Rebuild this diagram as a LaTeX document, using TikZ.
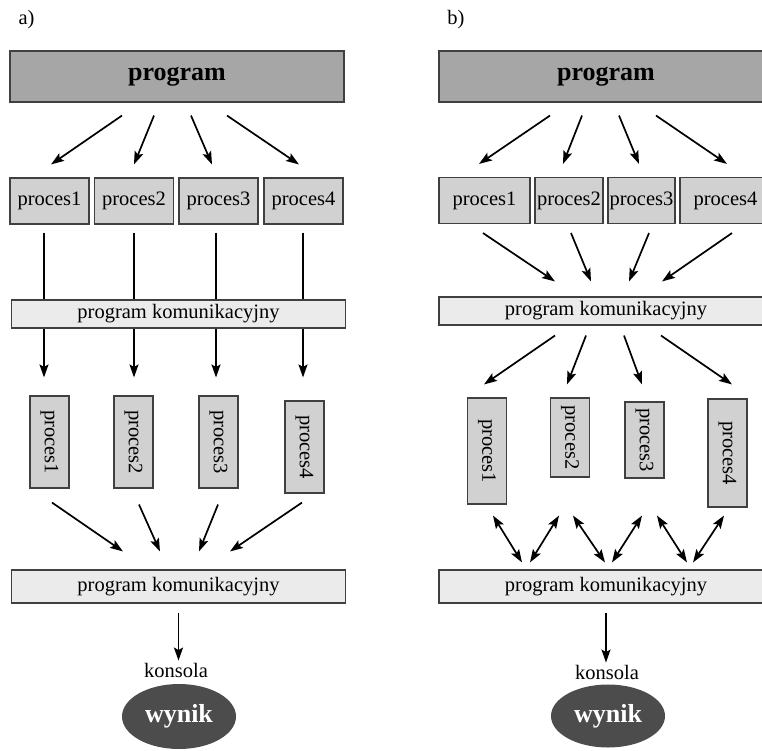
\documentclass[tikz,border=0pt]{standalone}
\usepackage{fontspec}
\setmainfont{Liberation Serif}
\usepackage{tikz}
\usetikzlibrary{arrows.meta,shapes.geometric}

\newcommand{\boxfont}{\fontsize{20.5}{24}\selectfont}
\newcommand{\headfont}{\fontsize{26}{30}\selectfont\bfseries}
\newcommand{\vtext}[1]{\rotatebox{-90}{#1}}

\tikzset{
  boxline/.style={draw=black!75, line width=1.1pt, inner sep=0pt},
  progbox/.style={boxline, fill=black!35, minimum width=334pt, minimum height=51pt, font=\headfont},
  procbox/.style={boxline, fill=black!18, minimum height=46pt, font=\boxfont},
  vprocbox/.style={boxline, fill=black!18, minimum width=39pt, font=\boxfont},
  kombox/.style={boxline, fill=black!8, minimum width=334pt, font=\boxfont},
  wynbox/.style={ellipse, fill=black!70, text=white, minimum width=114pt, minimum height=65pt, inner sep=0pt, font=\headfont},
  arr/.style={-{Stealth[length=13pt,width=9pt,inset=2.5pt]}, line width=1.7pt},
  dblarr/.style={{Stealth[length=13pt,width=9pt,inset=2.5pt]}-{Stealth[length=13pt,width=9pt,inset=2.5pt]}, line width=1.7pt}
}

\begin{document}
\begin{tikzpicture}[x=1pt,y=-1pt]
\clip (0,0) rectangle (762,751);

% ---- a) ----
\node[font=\boxfont] (lblA) at (26.5,20) {a)};
\node[progbox] (progA) at (177,76.5) {program};
\foreach \i/\x in {1/49.5,2/134,3/218.5,4/303.5}
  \node[procbox, minimum width=79pt] (pA\i) at (\x,201) {proces\i};
\node[vprocbox, minimum height=92pt] (vA1) at (49.5,442) {\vtext{proces1}};
\node[vprocbox, minimum height=92pt] (vA2) at (133.5,442) {\vtext{proces2}};
\node[vprocbox, minimum height=92pt] (vA3) at (218.5,442) {\vtext{proces3}};
\node[vprocbox, minimum height=92pt] (vA4) at (304.5,447) {\vtext{proces4}};
% lines pass behind the first communication box
\foreach \i/\s/\e/\d in {1/-5.5/-5.5/18, 2/0/0.5/18, 3/-2.5/-2.5/18, 4/-0.5/-1.5/23}
  \draw[arr] ([xshift=\s pt,yshift=-8pt]pA\i.south) -- ([xshift=\e pt,yshift=\d pt]vA\i.north);
\node[kombox, minimum height=28pt] (komA1) at (178.5,314) {program komunikacyjny};
\foreach \i/\s/\e in {1/-55/1.5, 2/-23/0, 3/14/-6.5, 4/50/-4.5}
  \draw[arr] ([xshift=\s pt,yshift=-13pt]progA.south) -- ([xshift=\e pt,yshift=13pt]pA\i.north);
\node[kombox, minimum height=33pt] (komA2) at (178.5,586.5) {program komunikacyjny};
\foreach \i/\s/\t/\e in {1/2.5/-14/-55.5, 2/5.5/-16/-18.5, 3/-0.5/-16/20.5, 4/-2.5/-9/51.5}
  \draw[arr] ([xshift=\s pt,yshift=\t pt]vA\i.south) -- ([xshift=\e pt,yshift=18pt]komA2.north);
\node[font=\boxfont, inner sep=2pt] (konsA) at (176,670) {konsola};
\draw[arr] ([yshift=-9pt]komA2.south) -- (komA2.south |- konsA.north);
\node[wynbox] (wynA) at (179,716.5) {wynik};

% ---- b) ----
\node[font=\boxfont] (lblB) at (456,20) {b)};
\node[progbox] (progB) at (606,76.5) {program};
\node[procbox, minimum width=91pt] (pB1) at (484.5,200.5) {proces1};
\node[procbox, minimum width=68pt] (pB2) at (569,200.5) {proces2};
\node[procbox, minimum width=67pt] (pB3) at (641.5,200.5) {proces3};
\node[procbox, minimum width=91pt] (pB4) at (725.5,200.5) {proces4};
\foreach \i/\s/\e in {1/-56/-5.5, 2/-24/-6, 3/13/-2.5, 4/50/1.5}
  \draw[arr] ([xshift=\s pt,yshift=-13pt]progB.south) -- ([xshift=\e pt,yshift=13pt]pB\i.north);
\node[kombox, minimum height=28pt] (komB1) at (606,311) {program komunikacyjny};
\foreach \i/\s/\e in {1/-1.5/-51, 2/2/-15, 3/7.5/23, 4/6.5/56}
  \draw[arr] ([xshift=\s pt,yshift=-9pt]pB\i.south) -- ([xshift=\e pt,yshift=15pt]komB1.north);
\node[vprocbox, minimum height=106pt] (vB1) at (487,451) {\vtext{proces1}};
\node[vprocbox, minimum height=79pt] (vB2) at (570,437.5) {\vtext{proces2}};
\node[vprocbox, minimum height=76pt] (vB3) at (644.5,440) {\vtext{proces3}};
\node[vprocbox, minimum height=108pt] (vB4) at (727.5,453) {\vtext{proces4}};
\foreach \i/\s/\e/\d in {1/-51/-3/13, 2/-20/-3/13, 3/18/-2.5/17, 4/55/4.5/14}
  \draw[arr] ([xshift=\s pt,yshift=-10pt]komB1.south) -- ([xshift=\e pt,yshift=\d pt]vB\i.north);
\node[kombox, minimum height=33pt] (komB2) at (606,586.5) {program komunikacyjny};
% two-way links
\foreach \i/\s/\t/\e in {1/6/-11/-84, 2/-11/-38/-76, 2/3/-38/-1, 3/-2.5/-37/6, 3/12.5/-37/81, 4/-3.5/-8/87}
  \draw[dblarr] ([xshift=\s pt,yshift=\t pt]vB\i.south) -- ([xshift=\e pt,yshift=7pt]komB2.north);
\node[font=\boxfont, inner sep=2pt] (konsB) at (607,672) {konsola};
\draw[arr] ([yshift=-9pt]komB2.south) -- (komB2.south |- konsB.north);
\node[wynbox, minimum height=63pt] (wynB) at (608,716) {wynik};
\end{tikzpicture}
\end{document}
